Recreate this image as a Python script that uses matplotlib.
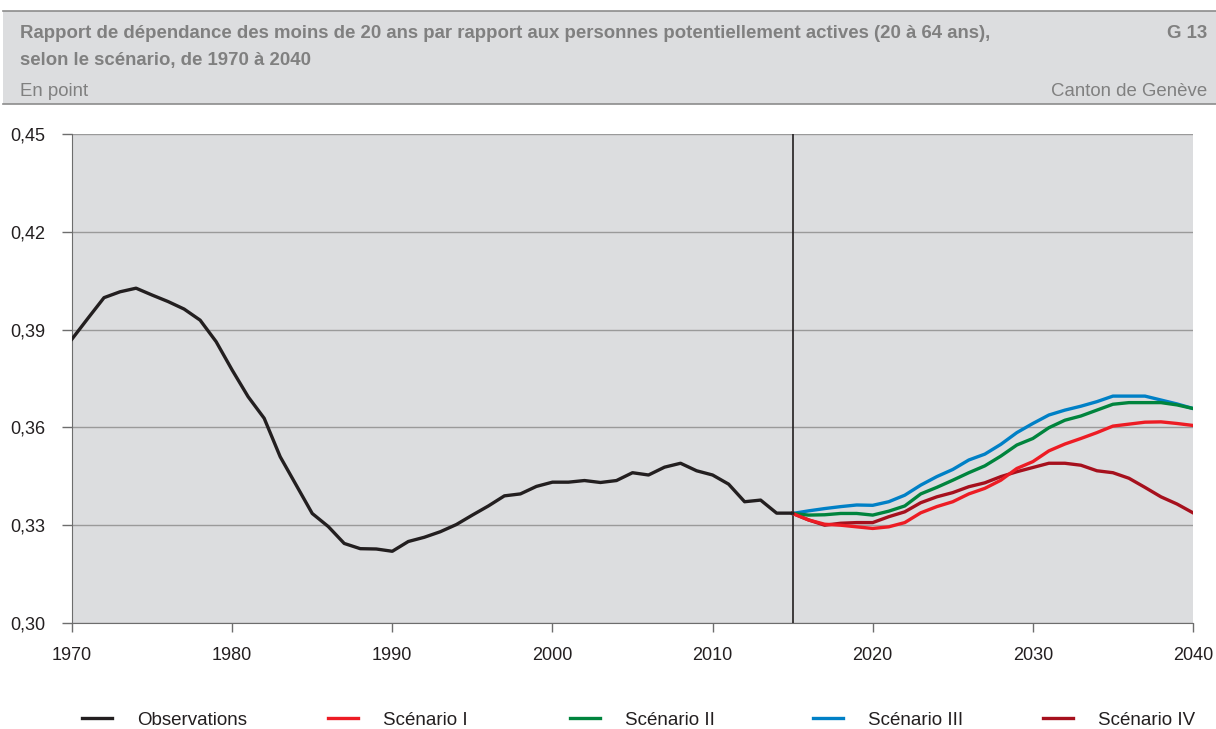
import matplotlib.pyplot as plt
from matplotlib.patches import Rectangle
from matplotlib.lines import Line2D
from matplotlib.ticker import FuncFormatter

# observations 1970-2015
obs_years = list(range(1970, 2016))
obs = [0.3871, 0.3935, 0.3998, 0.4016, 0.4027, 0.4006, 0.3986, 0.3963, 0.3929, 0.3863,
       0.3776, 0.3694, 0.3628, 0.3510, 0.3423, 0.3336, 0.3296, 0.3244, 0.3228, 0.3227,
       0.3220, 0.3250, 0.3263, 0.3280, 0.3302, 0.3331, 0.3359, 0.3390, 0.3396, 0.3419,
       0.3432, 0.3432, 0.3437, 0.3431, 0.3437, 0.3461, 0.3454, 0.3478, 0.3490, 0.3467,
       0.3454, 0.3426, 0.3372, 0.3377, 0.3337, 0.3337]

# scenarios 2015-2040
sc_years = list(range(2015, 2041))
sc1 = [0.3336, 0.3316, 0.3303, 0.3300, 0.3295, 0.3290, 0.3295, 0.3308, 0.3338, 0.3357,
       0.3372, 0.3396, 0.3413, 0.3438, 0.3474, 0.3495, 0.3528, 0.3549, 0.3566, 0.3584,
       0.3604, 0.3610, 0.3616, 0.3617, 0.3612, 0.3606]
sc2 = [0.3336, 0.3331, 0.3332, 0.3336, 0.3336, 0.3331, 0.3343, 0.3359, 0.3396, 0.3416,
       0.3438, 0.3461, 0.3482, 0.3512, 0.3546, 0.3566, 0.3599, 0.3622, 0.3635, 0.3653,
       0.3671, 0.3676, 0.3676, 0.3676, 0.3669, 0.3658]
sc3 = [0.3336, 0.3344, 0.3351, 0.3357, 0.3362, 0.3361, 0.3372, 0.3392, 0.3423, 0.3449,
       0.3471, 0.3500, 0.3518, 0.3548, 0.3584, 0.3612, 0.3638, 0.3653, 0.3665, 0.3679,
       0.3696, 0.3696, 0.3696, 0.3684, 0.3672, 0.3658]
sc4 = [0.3336, 0.3316, 0.3300, 0.3306, 0.3308, 0.3308, 0.3326, 0.3341, 0.3369, 0.3387,
       0.3400, 0.3418, 0.3430, 0.3449, 0.3464, 0.3477, 0.3490, 0.3490, 0.3484, 0.3467,
       0.3461, 0.3444, 0.3416, 0.3387, 0.3365, 0.3338]

labels = ['Observations', 'Scénario I', 'Scénario II', 'Scénario III', 'Scénario IV']
colors = ['#231f20', '#ed1c24', '#00843d', '#0080c6', '#a6101d']

plt.rcParams['font.family'] = ['Liberation Sans', 'DejaVu Sans']

W, H = 1216, 729
fig = plt.figure(figsize=(W / 100, H / 100), dpi=100)

# header band
fig.patches.append(Rectangle((3 / W, 1 - 104 / H), 1 - 3 / W, 93 / H, transform=fig.transFigure,
                             facecolor='#dcdddf', edgecolor='none', zorder=0))
fig.add_artist(Line2D([3 / W, 1], [1 - 11 / H] * 2, color='#8c8c8c', lw=1.2))
fig.add_artist(Line2D([3 / W, 1], [1 - 104 / H] * 2, color='#8c8c8c', lw=1.2))
tcol = '#808080'
fig.text(20 / W, 1 - 33 / H, 'Rapport de dépendance des moins de 20 ans par rapport aux personnes potentiellement actives (20 à 64 ans),',
         fontsize=13.4, fontweight='bold', color=tcol, va='center')
fig.text(20 / W, 1 - 61 / H, 'selon le scénario, de 1970 à 2040', fontsize=13.4, fontweight='bold', color=tcol, va='center')
fig.text(1207 / W, 1 - 33 / H, 'G 13', fontsize=13.4, fontweight='bold', color=tcol, va='center', ha='right')
fig.text(20 / W, 1 - 92 / H, 'En point', fontsize=13.4, color=tcol, va='center')
fig.text(1207 / W, 1 - 92 / H, 'Canton de Genève', fontsize=13.4, color=tcol, va='center', ha='right')

ax = fig.add_axes([72 / W, 1 - 623 / H, 1121 / W, 489 / H])
ax.set_facecolor('#dcdddf')
ax.set_xlim(1970, 2040)
ax.set_ylim(0.30, 0.45)
ax.set_yticks([0.30, 0.33, 0.36, 0.39, 0.42, 0.45])
ax.set_xticks(range(1970, 2041, 10))
ax.yaxis.set_major_formatter(FuncFormatter(lambda v, p: f'{v:.2f}'.replace('.', ',')))
ax.grid(axis='y', color='#9a9a9a', lw=1)
ax.set_axisbelow(True)
for s in ['top', 'right']:
    ax.spines[s].set_visible(False)
for s in ['left', 'bottom']:
    ax.spines[s].set_color('#6d6d6d')
ax.tick_params(axis='y', length=7, width=1, color='#6d6d6d', labelsize=13, labelcolor='#231f20', pad=12)
ax.tick_params(axis='x', length=6.5, width=1, color='#6d6d6d', labelsize=13, labelcolor='#231f20', pad=11)

ax.axvline(2015, color='#231f20', lw=1.2, zorder=3)

series = [(obs_years, obs), (sc_years, sc1), (sc_years, sc2), (sc_years, sc3), (sc_years, sc4)]
handles = []
for (xs, ys), lab, col in zip(series[::-1], labels[::-1], colors[::-1]):
    h, = ax.plot(xs, ys, color=col, lw=2.4, label=lab, zorder=4, solid_joinstyle='round')
    handles.append(h)
handles = handles[::-1]

# legend entries spread across the bottom
leg_x = [82, 328, 570, 813, 1043]
for h, x in zip(handles, leg_x):
    leg = fig.legend(handles=[h], loc='center left', bbox_to_anchor=(x / W, 1 - 720 / H),
                     frameon=False, fontsize=13.5, handlelength=1.6, handletextpad=1.35,
                     borderaxespad=0, borderpad=0)
    leg.get_texts()[0].set_color('#231f20')

fig.savefig('out.png', dpi=100)
